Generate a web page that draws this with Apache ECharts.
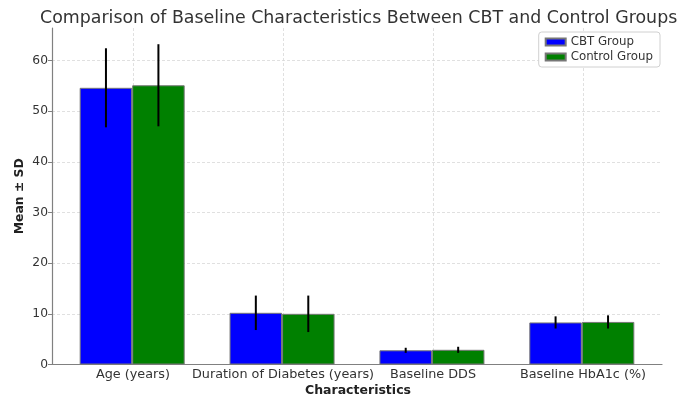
<!DOCTYPE html>
<html>
<head>
<meta charset="utf-8">
<script src="https://cdn.jsdelivr.net/npm/echarts@6/dist/echarts.min.js"></script>
<style>
html,body{margin:0;padding:0;background:#fff;}
#chart{width:680px;height:398px;}
</style>
</head>
<body>
<div id="chart"></div>
<script>
const categories = ['Age (years)', 'Duration of Diabetes (years)', 'Baseline DDS', 'Baseline HbA1c (%)'];
const cbtMeans = [54.6, 10.2, 2.8, 8.3];
const cbtSD = [7.8, 3.4, 0.5, 1.2];
const ctrlMeans = [55.1, 10.0, 2.9, 8.4];
const ctrlSD = [8.1, 3.6, 0.6, 1.3];
const seriesNames = ['CBT Group', 'Control Group'];
const yTicks = [0, 10, 20, 30, 40, 50, 60];

const FONT = 'DejaVu Sans';
const BAR_W = 0.35;
const xPos = categories.map((c, i) => i);

const chart = echarts.init(document.getElementById('chart'), null, {renderer: 'canvas'});

function errData(means, sds, sign) {
  return means.map((m, i) => [xPos[i], m, sds[i], sign]);
}

function renderErr(params, api) {
  const x = api.value(0), m = api.value(1), sd = api.value(2), sign = api.value(3);
  const off = sign * api.size([BAR_W / 2, 0])[0];
  const top = api.coord([x, m + sd]);
  const bot = api.coord([x, m - sd]);
  return {
    type: 'line',
    shape: {x1: top[0] + off, y1: top[1], x2: bot[0] + off, y2: bot[1]},
    style: {stroke: '#000', lineWidth: 2}
  };
}

const option = {
  animation: false,
  backgroundColor: '#fff',
  textStyle: {fontFamily: FONT},
  title: {
    text: 'Comparison of Baseline Characteristics Between CBT and Control Groups',
    left: 35, top: 5,
    textStyle: {fontFamily: FONT, fontSize: 17.4, fontWeight: 'normal', color: '#333'}
  },
  legend: {
    data: seriesNames,
    orient: 'vertical',
    right: 20, top: 32,
    icon: 'rect',
    itemWidth: 20, itemHeight: 7,
    itemGap: 3,
    padding: [4, 7, 4, 6],
    backgroundColor: '#fff',
    borderColor: '#d0d0d0', borderWidth: 1, borderRadius: 3,
    textStyle: {fontFamily: FONT, fontSize: 11.8, color: '#333'}
  },
  grid: [
    {left: 52, right: 18, top: 28, bottom: 33.5, outerBoundsMode: 'none', containLabel: false},
    {left: 133, right: 97, top: 28, bottom: 33.5, outerBoundsMode: 'none', containLabel: false}
  ],
  xAxis: [
    {
      type: 'value', gridIndex: 0,
      min: -0.535, max: 3.535,
      axisLine: {show: true, onZero: false, lineStyle: {color: '#808080', width: 1.2}},
      axisTick: {show: false}, axisLabel: {show: false}, splitLine: {show: false}
    },
    {
      type: 'category', gridIndex: 1, data: categories, boundaryGap: false,
      axisLine: {show: false, onZero: false}, axisTick: {show: false},
      axisLabel: {interval: 0, fontFamily: FONT, fontSize: 12.8, color: '#333', margin: 4},
      splitLine: {show: true, interval: 0, lineStyle: {color: '#d8d8d8', type: [3, 2], width: 0.8}},
      name: 'Characteristics', nameLocation: 'middle', nameGap: 20, nameMoveOverlap: false,
      nameTextStyle: {fontFamily: FONT, fontSize: 12.5, fontWeight: 'bold', color: '#222'}
    }
  ],
  yAxis: [
    {
      type: 'value', gridIndex: 0, min: 0, max: 66.4, interval: 10,
      axisLine: {show: true, onZero: false, lineStyle: {color: '#808080', width: 1.2}},
      axisTick: {show: true, length: 4, lineStyle: {color: '#808080'}},
      axisLabel: {fontFamily: FONT, fontSize: 12.3, color: '#333', margin: 4, showMaxLabel: false,
        formatter: v => (yTicks.indexOf(v) >= 0 ? String(v) : '')},
      splitLine: {show: true, showMaxLine: false, showMinLine: false,
        lineStyle: {color: '#d8d8d8', type: [3, 2], width: 0.8}},
      name: 'Mean ± SD', nameLocation: 'middle', nameGap: 26, nameMoveOverlap: false,
      nameTextStyle: {fontFamily: FONT, fontSize: 12.4, fontWeight: 'bold', color: '#222'}
    },
    {type: 'value', gridIndex: 1, min: 0, max: 66.4, show: false}
  ],
  series: [
    {
      name: seriesNames[0], type: 'bar', xAxisIndex: 0, yAxisIndex: 0,
      data: cbtMeans.map((v, i) => [xPos[i], v]),
      barWidth: 52.5, barGap: '0%',
      itemStyle: {color: '#0000ff', borderColor: '#777', borderWidth: 1},
      z: 2
    },
    {
      name: seriesNames[1], type: 'bar', xAxisIndex: 0, yAxisIndex: 0,
      data: ctrlMeans.map((v, i) => [xPos[i], v]),
      barWidth: 52.5, barGap: '0%',
      itemStyle: {color: '#008000', borderColor: '#777', borderWidth: 1},
      z: 2
    },
    {
      type: 'custom', xAxisIndex: 0, yAxisIndex: 0,
      data: errData(cbtMeans, cbtSD, -1),
      renderItem: renderErr, z: 5, silent: true
    },
    {
      type: 'custom', xAxisIndex: 0, yAxisIndex: 0,
      data: errData(ctrlMeans, ctrlSD, 1),
      renderItem: renderErr, z: 5, silent: true
    }
  ]
};
chart.setOption(option);
</script>
</body>
</html>
